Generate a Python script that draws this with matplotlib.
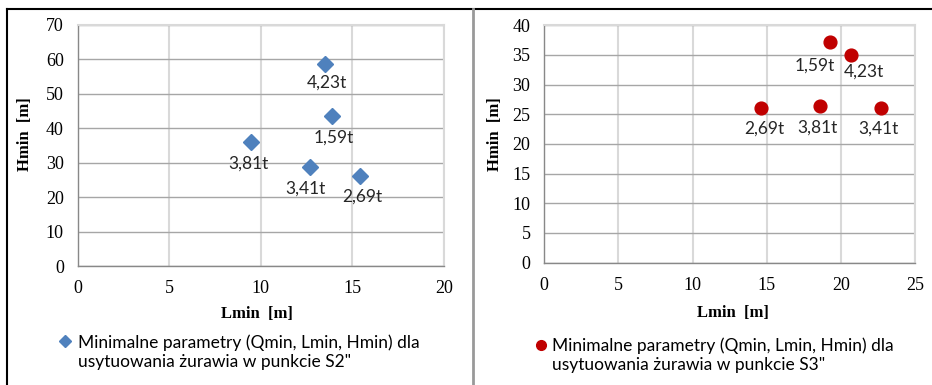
import matplotlib
matplotlib.use("Agg")
import matplotlib.pyplot as plt
from matplotlib.lines import Line2D

# === data ===
# punkt S2
s2_L = [13.5, 13.9, 9.45, 12.7, 15.4]
s2_H = [58.5, 43.4, 35.9, 28.7, 26.1]
s2_Q = ["4,23t", "1,59t", "3,81t", "3,41t", "2,69t"]

# punkt S3
s3_L = [19.3, 20.7, 14.6, 18.6, 22.7]
s3_H = [37.1, 34.9, 26.1, 26.3, 26.0]
s3_Q = ["1,59t", "4,23t", "2,69t", "3,81t", "3,41t"]

s2_label = "Minimalne parametry (Qmin, Lmin, Hmin) dla\nusytuowania żurawia w punkcie S2\""
s3_label = "Minimalne parametry (Qmin, Lmin, Hmin) dla\nusytuowania żurawia w punkcie S3\""

# label offsets in pixels (style, not data)
s2_off = [(2, -18), (1, -21), (-2, -21), (-5, -22), (3, -21)]
s3_off = [(-16, -23), (13, -16), (4, -21), (-3, -21), (-2, -20)]

SERIF = "Liberation Serif"
SANS = "Lato"
TXT = 12.5


def style_axes(ax, xmax, ymax, ystep):
    ax.set_xlim(0, xmax)
    ax.set_ylim(0, ymax)
    ax.set_xticks(range(0, xmax + 1, 5))
    ax.set_yticks(range(0, ymax + 1, ystep))
    ax.grid(True, axis="x", color="#d9d9d9", linewidth=1.5)
    ax.grid(True, axis="y", color="#a6a6a6", linewidth=1.0)
    ax.set_axisbelow(True)
    for side in ["top", "right"]:
        ax.spines[side].set_color("#d9d9d9")
        ax.spines[side].set_linewidth(1.5)
    for side in ["left", "bottom"]:
        ax.spines[side].set_color("#888888")
        ax.spines[side].set_linewidth(1.0)
    ax.tick_params(length=0, pad=10, labelsize=13)
    for t in ax.get_xticklabels() + ax.get_yticklabels():
        t.set_fontfamily(SERIF)
    ax.set_xlabel("Lmin  [m]", fontfamily=SERIF, fontweight="bold", fontsize=12)
    ax.set_ylabel("Hmin  [m]", fontfamily=SERIF, fontweight="bold", fontsize=12)


def add_legend(ax, anchor, textpad, msize):
    leg = ax.legend(loc="upper left", bbox_to_anchor=anchor, frameon=False,
                    prop={"family": SANS, "size": TXT}, handlelength=0.6,
                    handletextpad=textpad, borderaxespad=0, borderpad=0,
                    labelspacing=0)
    # move marker up to line up with the first text line
    h = leg.legend_handles[0]
    h.set_markersize(msize)
    h.set_ydata([y + 8 for y in h.get_ydata()])
    return leg


fig = plt.figure(figsize=(9.32, 3.85), dpi=100)

# --- left chart (S2) ---
ax1 = fig.add_axes([0.0834, 0.309, 0.393, 0.627])
ax1.plot(s2_L, s2_H, linestyle="none", marker="D", markersize=7.8,
         color="#4f81bd", label=s2_label)
for x, y, q, (dx, dy) in zip(s2_L, s2_H, s2_Q, s2_off):
    ax1.annotate(q, (x, y), xytext=(dx, dy), textcoords="offset pixels",
                 ha="center", va="center", fontfamily=SANS, fontsize=TXT,
                 color="#262626")
style_axes(ax1, 20, 70, 10)
ax1.yaxis.set_label_coords(-0.122, 0.547)
ax1.xaxis.set_label_coords(0.49, -0.166)
add_legend(ax1, (-0.048, -0.283), 0.45, 6)

# --- right chart (S3) ---
ax2 = fig.add_axes([0.584, 0.3177, 0.3977, 0.617])
ax2.plot(s3_L, s3_H, linestyle="none", marker="o", markersize=9.2,
         color="#c00000", label=s3_label)
for x, y, q, (dx, dy) in zip(s3_L, s3_H, s3_Q, s3_off):
    ax2.annotate(q, (x, y), xytext=(dx, dy), textcoords="offset pixels",
                 ha="center", va="center", fontfamily=SANS, fontsize=TXT,
                 color="#262626")
style_axes(ax2, 25, 40, 5)
ax2.yaxis.set_label_coords(-0.111, 0.541)
ax2.xaxis.set_label_coords(0.51, -0.178)
add_legend(ax2, (-0.022, -0.316), 0.3, 7)

# --- frame lines around the two panels ---
fig.add_artist(Line2D([0.0075, 1.0], [0.976, 0.976], color="black", linewidth=1.5))
fig.add_artist(Line2D([0.0075, 0.0075], [0.0, 0.976], color="black", linewidth=1.5))
fig.add_artist(Line2D([0.5075, 0.5075], [0.0, 0.976], color="#999999", linewidth=2.0))

fig.savefig("out.png", dpi=100)
